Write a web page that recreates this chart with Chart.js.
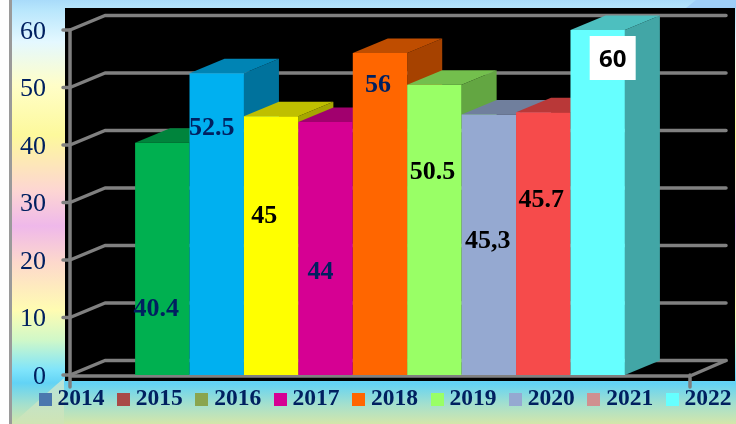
<!DOCTYPE html>
<html>
<head>
<meta charset="utf-8">
<title>2014-2022</title>
<script src="https://cdn.jsdelivr.net/npm/chart.js@4"></script>
<style>
    html, body { margin: 0; padding: 0; background: #fff; }
    /* latar gradasi slide di belakang chart */
    #wrap {
        position: relative;
        width: 736px;
        height: 424px;
        overflow: hidden;
        background: linear-gradient(180deg,
            #a9dbfa 0px, #b8e6fc 10px, #e4f8ff 42px, #fffec8 85px, #fdf99c 135px,
            #fdd6d2 190px, #efb8ea 226px, #fdd8cc 262px, #fffcb2 310px,
            #d0f8c8 340px, #7fe4fb 370px, #62d3f5 383px,
            #a6e0cc 405px, #d4e6aa 424px);
    }
    #wrap:before {
        content: '';
        position: absolute;
        left: 0; top: 0; bottom: 0;
        width: 9px;
        background: #fff;
        border-right: 3px solid #9a9a9a;
    }
    /* sudut segitiga kiri bawah dan kanan atas */
    #corner-bl {
        position: absolute;
        left: 12px; top: 378px;
        width: 52px; height: 46px;
        background: linear-gradient(180deg, #b5e3dc, #d0e4b4);
        clip-path: polygon(100% 0, 100% 100%, 0 100%);
    }
    #corner-tr {
        position: absolute;
        right: 0; top: 0;
        width: 50px; height: 8px;
        background: #9fcff8;
        clip-path: polygon(10px 0, 100% 0, 100% 100%, 0 100%);
    }
    canvas { position: absolute; left: 0; top: 0; }
</style>
</head>
<body>
<div id="wrap">
    <div id="corner-bl"></div>
    <div id="corner-tr"></div>
    <canvas id="chart" width="736" height="424"></canvas>
</div>
<script>
// Data series, satu kategori dengan sembilan seri
const years = ['2014', '2015', '2016', '2017', '2018', '2019', '2020', '2021', '2022'];
const values = [40.4, 52.5, 45, 44, 56, 50.5, 45.3, 45.7, 60];
const valueLabels = ['40.4', '52.5', '45', '44', '56', '50.5', '45,3', '45.7', '60'];
const barColors = ['#00b050', '#00b0f0', '#ffff00', '#d60093', '#ff6600', '#99ff66', '#95a9d1', '#f64b4b', '#66ffff'];
const legendColors = ['#4b78ae', '#a94a47', '#8aa54e', '#d60093', '#ff6600', '#99ff66', '#95a9d1', '#d09090', '#66ffff'];
const labelColors = ['#002060', '#002060', '#000', '#002060', '#002060', '#000', '#000', '#000', '#000'];
const yTicks = [0, 10, 20, 30, 40, 50, 60];

// Pergeseran label terhadap tengah bar (x) dan puncak bar (y)
const labelShift = [[-6, 167], [-5, 55], [-7, 100], [-5, 150], [-2, 32], [-2, 88], [-1, 127], [-2, 88], [15, 30]];

// Kedalaman efek 3D
const DEPTH_X = 35;
const DEPTH_Y = -14.5;
const GRID = '#808080';

function shade(hex, k) {
    const n = parseInt(hex.slice(1), 16);
    return 'rgb(' + [(n >> 16) & 255, (n >> 8) & 255, n & 255].map(c => Math.round(c * k)).join(',') + ')';
}

function poly(ctx, color, pts) {
    ctx.fillStyle = color;
    ctx.beginPath();
    pts.forEach((p, i) => (i ? ctx.lineTo(p[0], p[1]) : ctx.moveTo(p[0], p[1])));
    ctx.closePath();
    ctx.fill();
}

// Kotak warna legenda sebagai pointStyle supaya jarak ke teks bisa pas
function swatch(color) {
    const c = document.createElement('canvas');
    c.width = 13;
    c.height = 13;
    const g = c.getContext('2d');
    g.fillStyle = color;
    g.fillRect(0, 0, 13, 13);
    return c;
}

const box3d = {
    id: 'box3d',
    afterLayout(chart) {
        // legenda digeser setelah layout, supaya tidak pindah baris
        chart.legend.top -= 6;
        chart.legend.left += 16;
        chart.legend.right += 20;
    },
    beforeDraw(chart) {
        const { ctx, chartArea: a, scales: { y } } = chart;
        ctx.save();
        ctx.fillStyle = '#000';
        ctx.fillRect(a.left - 5, 8, chart.width - a.left + 4, a.bottom + 6 - 8);

        // Grid dinding dan lantai
        ctx.strokeStyle = GRID;
        ctx.lineWidth = 3.5;
        ctx.lineCap = 'round';
        ctx.lineJoin = 'round';
        yTicks.forEach(v => {
            const py = y.getPixelForValue(v);
            ctx.beginPath();
            ctx.moveTo(a.left - 7, py);
            ctx.lineTo(a.left, py);
            ctx.lineTo(a.left + DEPTH_X, py + DEPTH_Y);
            ctx.lineTo(a.right + DEPTH_X + 1, py + DEPTH_Y);
            ctx.stroke();
        });
        ctx.beginPath();
        ctx.moveTo(a.left, a.top);
        ctx.lineTo(a.left, a.bottom + 12);
        ctx.moveTo(a.left, a.bottom + 1);
        ctx.lineTo(a.right, a.bottom + 1);
        ctx.lineTo(a.right + DEPTH_X + 1, a.bottom + DEPTH_Y);
        ctx.moveTo(a.right, a.bottom);
        ctx.lineTo(a.right, a.bottom + 12);
        ctx.stroke();
        ctx.restore();
    },
    // Bar digambar sendiri dari kiri ke kanan, urutan bawaan Chart.js terbalik
    beforeDatasetDraw() {
        return false;
    },
    afterDatasetsDraw(chart) {
        const { ctx } = chart;
        years.forEach((year, i) => {
            const bar = chart.getDatasetMeta(i).data[0];
            const { x, y, base, width } = bar.getProps(['x', 'y', 'base', 'width'], true);
            const l = x - width / 2;
            const r = x + width / 2;
            ctx.save();
            poly(ctx, shade(barColors[i], 0.65), [[r, y], [r + DEPTH_X, y + DEPTH_Y], [r + DEPTH_X, base + DEPTH_Y], [r, base]]);
            poly(ctx, shade(barColors[i], 0.75), [[l, y], [l + DEPTH_X, y + DEPTH_Y], [r + DEPTH_X, y + DEPTH_Y], [r, y]]);
            ctx.restore();
            bar.draw(ctx);
        });

        // Label nilai
        ctx.save();
        ctx.textAlign = 'center';
        ctx.textBaseline = 'middle';
        years.forEach((year, i) => {
            const bar = chart.getDatasetMeta(i).data[0];
            const lx = bar.x + labelShift[i][0];
            const ly = bar.y + labelShift[i][1];
            if (i === years.length - 1) {
                ctx.fillStyle = '#fff';
                ctx.fillRect(lx - 23, ly - 24, 46, 44);
                ctx.font = 'bold 24px "Open Sans"';
            } else {
                ctx.font = 'bold 26px "Liberation Serif"';
            }
            ctx.fillStyle = labelColors[i];
            ctx.fillText(valueLabels[i], lx, ly);
        });
        ctx.restore();
    },
};

new Chart(document.getElementById('chart'), {
    type: 'bar',
    data: {
        labels: [''],
        datasets: years.map((year, i) => ({
            label: year,
            data: [values[i]],
            backgroundColor: barColors[i],
            categoryPercentage: 0.79,
            barPercentage: 1,
        })),
    },
    options: {
        responsive: false,
        animation: false,
        layout: { padding: { left: 10, top: 30 } },
        plugins: {
            tooltip: { enabled: false },
            legend: {
                position: 'bottom',
                align: 'start',
                maxHeight: 49,
                labels: {
                    usePointStyle: true,
                    pointStyleWidth: 1,
                    padding: 18.65,
                    color: '#002060',
                    font: { family: '"Liberation Serif"', size: 23.5, weight: 'bold' },
                    generateLabels: () => years.map((year, i) => ({
                        text: year,
                        pointStyle: swatch(legendColors[i]),
                        fontColor: '#002060',
                        datasetIndex: i,
                    })),
                },
            },
        },
        scales: {
            x: { display: false },
            y: {
                min: 0,
                max: 60,
                afterFit: s => {
                    s.width = 60;
                    s.paddingTop = 0;
                    s.paddingBottom = 0;
                },
                afterBuildTicks: s => { s.ticks = yTicks.map(value => ({ value })); },
                grid: { display: false, drawTicks: false },
                border: { display: false },
                ticks: {
                    padding: 24,
                    labelOffset: 2,
                    color: '#002060',
                    font: { family: '"Liberation Serif"', size: 26 },
                },
            },
            // sumbu kosong, hanya menyisakan ruang kanan sampai ujung lantai
            gap: {
                position: 'right',
                afterFit: s => {
                    s.width = 46;
                    s.paddingTop = 0;
                    s.paddingBottom = 0;
                },
                grid: { display: false },
                border: { display: false },
                ticks: { display: false },
            },
        },
    },
    plugins: [box3d],
});
</script>
</body>
</html>
